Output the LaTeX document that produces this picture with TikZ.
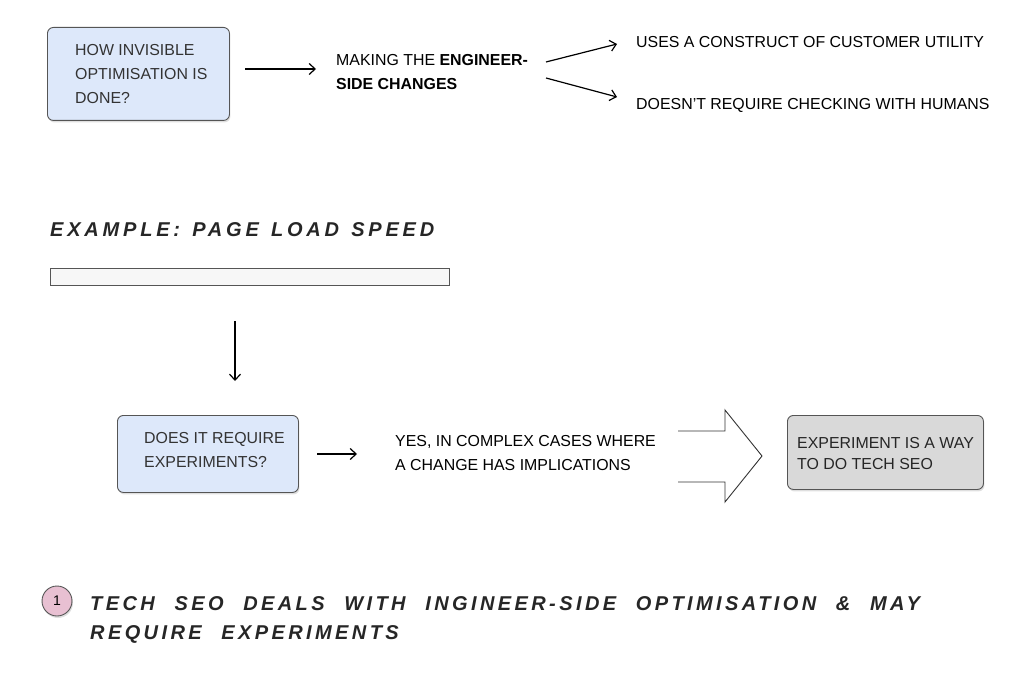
\documentclass[tikz,border=0pt]{standalone}
\usepackage{fontspec}
\setmainfont{Liberation Sans}
\newfontfamily\handfont[LetterSpace=17,WordSpace=2.2]{Liberation Sans}
\newfontfamily\handfontb[LetterSpace=19,WordSpace=1.3]{Liberation Sans}
\usetikzlibrary{arrows.meta,shadows}
\definecolor{boxblue}{HTML}{DDE8FA}
\definecolor{boxgray}{HTML}{D9D9D9}
\definecolor{edgegray}{HTML}{555555}
\definecolor{txt}{HTML}{333333}
\definecolor{pinkc}{HTML}{E8C0D2}
\tikzset{
  x=1pt,y=-1pt,
  qbox/.style={draw=edgegray,line width=0.9pt,rounded corners=6pt,fill=boxblue,
    drop shadow={shadow xshift=1pt,shadow yshift=-2pt,opacity=0.25}},
  abox/.style={draw=edgegray,line width=0.9pt,rounded corners=6pt,fill=boxgray,
    drop shadow={shadow xshift=1pt,shadow yshift=-2pt,opacity=0.25}},
  body/.style={font=\fontsize{15.9}{24}\selectfont,text=txt,align=left,anchor=north west,inner sep=0pt},
  plain/.style={font=\fontsize{15.9}{24}\selectfont,text=black,align=left,anchor=north west,inner sep=0pt},
  hand/.style={font=\handfont\fontsize{20}{29}\selectfont\bfseries\itshape,text=black!85,align=left,anchor=north west,inner sep=0pt},
  handb/.style={hand,font=\handfontb\fontsize{20}{29}\selectfont\bfseries\itshape},
  conn/.style={-{Straight Barb[length=6pt,width=11pt]},line width=1.2pt,black},
}
\begin{document}
\begin{tikzpicture}
\useasboundingbox (0,0) rectangle (1024,692);
% row 1
\node[qbox,minimum width=182pt,minimum height=93pt,anchor=north west] (q1) at (47,27) {};
\node[body] (q1t) at (75,44) {HOW INVISIBLE\\OPTIMISATION IS\\DONE?};
\node[plain] (mk) at (336,54) {MAKING THE \textbf{ENGINEER-}\\\textbf{SIDE CHANGES}};
\coordinate (a1s) at (245,69);
\coordinate (a1e) at (316,69);
\draw[conn] (a1s) -- (a1e);
\node[plain] (u1) at (636,36) {USES A CONSTRUCT OF CUSTOMER UTILITY};
\node[plain] (u2) at (636,98) {DOESN’T REQUIRE CHECKING WITH HUMANS};
\coordinate (b1s) at (546,62);
\coordinate (b1e) at (617,44);
\coordinate (b2s) at (546,78);
\coordinate (b2e) at (617,97);
\draw[conn] (b1s) -- (b1e);
\draw[conn] (b2s) -- (b2e);
% example
\node[handb] (ex) at (50,222) {EXAMPLE: PAGE LOAD SPEED};
\node[draw=edgegray,fill=black!3,line width=0.9pt,minimum width=399pt,minimum height=17pt,anchor=north west,inner sep=0pt] (bar) at (50,268) {};
\coordinate (d1s) at (235,321);
\coordinate (d1e) at (235,381);
\draw[conn] (d1s) -- (d1e);
% row 2
\node[qbox,minimum width=181pt,minimum height=77pt,anchor=north west] (q2) at (117,415) {};
\node[body] (q2t) at (144,432) {DOES IT REQUIRE\\EXPERIMENTS?};
\coordinate (a2s) at (317,454);
\coordinate (a2e) at (357,454);
\draw[conn] (a2s) -- (a2e);
\node[plain] (yes) at (395,435) {YES, IN COMPLEX CASES WHERE\\A CHANGE HAS IMPLICATIONS};
\draw[black!80,line width=0.9pt,line join=miter] (678,431) -- (725,431) -- (725,410) -- (762,456) -- (725,502) -- (725,482) -- (678,482);
\node[abox,minimum width=196pt,minimum height=74pt,anchor=north west] (ans) at (787,415) {};
\node[body,text=black!85,font=\fontsize{15.9}{21.5}\selectfont] (anst) at (797,437) {EXPERIMENT IS A WAY\\TO DO TECH SEO};
% footnote
\node[circle,draw=edgegray,fill=pinkc,line width=0.9pt,minimum size=30pt,inner sep=0pt,
  drop shadow={shadow xshift=1pt,shadow yshift=-2pt,opacity=0.25},
  font=\fontsize{14}{14}\selectfont] (c1) at (57,601) {1};
\node[hand] (ft) at (90,596) {TECH SEO DEALS WITH INGINEER-SIDE OPTIMISATION \& MAY\\REQUIRE EXPERIMENTS};
\end{tikzpicture}
\end{document}
